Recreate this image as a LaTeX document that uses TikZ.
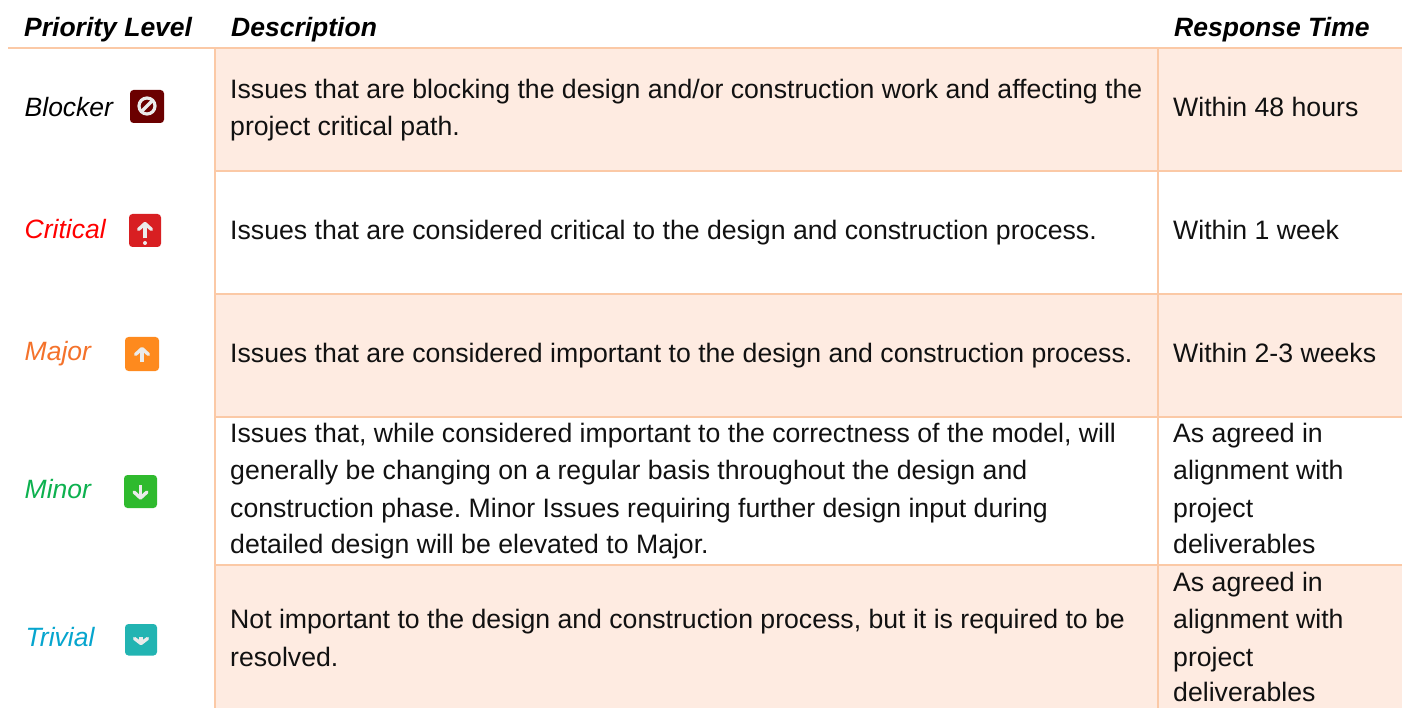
\documentclass[tikz,border=0pt]{standalone}
\usepackage{fontspec}
\setmainfont{Liberation Sans}
\frenchspacing
\definecolor{rulec}{HTML}{FBC9A6}
\definecolor{fillc}{HTML}{FEEBE1}
\definecolor{txt}{HTML}{111111}
\definecolor{cblock}{HTML}{6B0000}
\definecolor{ccrit}{HTML}{D81F22}
\definecolor{cmaj}{HTML}{FE8A1E}
\definecolor{cmin}{HTML}{2FBA2E}
\definecolor{ctriv}{HTML}{22B4B2}
\definecolor{tmaj}{HTML}{F4722B}
\definecolor{tmin}{HTML}{0DB14F}
\definecolor{ttriv}{HTML}{06A5CE}
\tikzset{
  x=1pt,y=-1pt,
  head/.style={anchor=base west,inner sep=0pt,font=\fontsize{26.5}{30}\selectfont\bfseries\itshape,text=black},
  prio/.style={anchor=base west,inner sep=0pt,font=\fontsize{26.5}{30}\selectfont\itshape},
  body/.style={anchor=base west,inner sep=0pt,font=\fontsize{26.65}{30}\selectfont,text=txt},
  rulel/.style={draw=rulec,line width=1.6pt},
  band/.style={fill=fillc,draw=none},
  iconbox/.style={rounded corners=3.5pt,draw=none},
  glyph/.style={draw=white!92!black,line width=3.4pt},
}
\begin{document}
\begin{tikzpicture}
\useasboundingbox (0,0) rectangle (1402,708);
% bands
\path[band] (215,48) rectangle (1402,171);
\path[band] (215,294) rectangle (1402,417);
\path[band] (215,565) rectangle (1402,708);
% rules
\draw[rulel] (8,48) -- (1402,48);
\foreach \yy in {171,294,417,565} \draw[rulel] (215,\yy) -- (1402,\yy);
\draw[rulel] (215,48) -- (215,708);
\draw[rulel] (1158,48) -- (1158,708);
% header
\node[head] (hp) at (24,37) {Priority Level};
\node[head] (hd) at (231,37) {Description};
\node[head] (hr) at (1174,37) {Response Time};
% priorities
\node[prio,text=black] (pb) at (24.5,117) {Blocker};
\node[prio,text=red] (pc) at (24.5,239) {Critical};
\node[prio,text=tmaj] (pm) at (24.5,360) {Major};
\node[prio,text=tmin] (pn) at (24.5,498) {Minor};
\node[prio,text=ttriv] (pt) at (25.5,646) {Trivial};
% icons
\fill[iconbox,cblock] (130,90) rectangle (164,123);
\draw[glyph,line width=3.2pt] (147,106) circle (8);
\draw[glyph,line width=3.2pt] (141.5,111.5) -- (152.5,100.5);
\fill[iconbox,ccrit] (129,214) rectangle (161,247);
\draw[glyph] (145,238.5) -- (145,224);
\draw[glyph,line cap=round,line join=round] (138.5,229.5) -- (145,223.5) -- (151.5,229.5);
\fill[white!92!black] (145,243) circle (2);
\fill[iconbox,cmaj] (125,337) rectangle (159,371);
\draw[glyph] (142,362) -- (142,349);
\draw[glyph,line cap=round,line join=round] (135.5,354.5) -- (142,348.5) -- (148.5,354.5);
\fill[iconbox,cmin] (124,475) rectangle (157,508);
\draw[glyph] (140.5,485) -- (140.5,497);
\draw[glyph,line cap=round,line join=round] (134,492) -- (140.5,498) -- (147,492);
\fill[iconbox,ctriv] (125,624) rectangle (157,655.5);
\draw[glyph] (141,637) -- (141,643);
\draw[glyph,line cap=round,line join=round] (134.5,638.5) -- (141,643.5) -- (147.5,638.5);
% descriptions
\node[body] (d1a) at (230,99) {Issues that are blocking the design and/or construction work and affecting the};
\node[body] (d1b) at (230,136) {project critical path.};
\node[body] (d2) at (230,240) {Issues that are considered critical to the design and construction process.};
\node[body] (d3) at (230,362.4) {Issues that are considered important to the design and construction process.};
\node[body] (d4a) at (230,442) {Issues that, while considered important to the correctness of the model, will};
\node[body] (d4b) at (230,479) {generally be changing on a regular basis throughout the design and};
\node[body] (d4c) at (230,517) {construction phase. Minor Issues requiring further design input during};
\node[body] (d4d) at (230,553.5) {detailed design will be elevated to Major.};
\node[body] (d5a) at (230,628) {Not important to the design and construction process, but it is required to be};
\node[body] (d5b) at (230,666) {resolved.};
% response
\node[body] (r1) at (1173,117) {Within 48 hours};
\node[body] (r2) at (1173,240) {Within 1 week};
\node[body] (r3) at (1173,362.4) {Within 2-3 weeks};
\node[body] (r4a) at (1173,442) {As agreed in};
\node[body] (r4b) at (1173,479) {alignment with};
\node[body] (r4c) at (1173,517) {project};
\node[body] (r4d) at (1173,553.5) {deliverables};
\node[body] (r5a) at (1173,591) {As agreed in};
\node[body] (r5b) at (1173,628) {alignment with};
\node[body] (r5c) at (1173,666) {project};
\node[body] (r5d) at (1173,701) {deliverables};
\end{tikzpicture}
\end{document}
